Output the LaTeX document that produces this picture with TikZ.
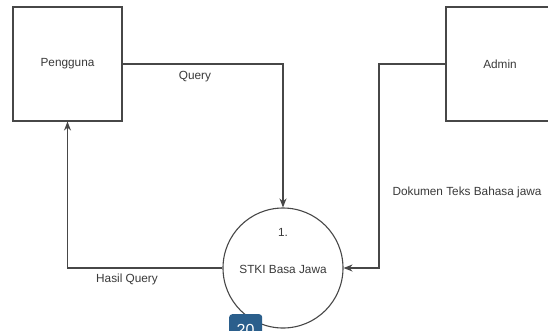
\documentclass[tikz,border=0pt]{standalone}
\usepackage{fontspec}
\setmainfont{Liberation Sans}
\usetikzlibrary{arrows.meta}
\definecolor{ln}{HTML}{474747}
\definecolor{tx}{HTML}{3A3A3A}
\definecolor{badge}{HTML}{2B5F8C}
\begin{document}
\begin{tikzpicture}[x=1pt,y=-1pt,
  txt/.style={font=\fontsize{11.8}{14}\selectfont, text=tx, inner sep=0pt},
  ent/.style={draw=ln, line width=1.1pt, rectangle, minimum width=109pt, minimum height=114pt, inner sep=0pt, font=\fontsize{11.8}{14}\selectfont, text=tx},
  proc/.style={draw=ln, line width=1.1pt, circle, minimum size=120pt, inner sep=0pt},
  flow/.style={draw=ln, line width=1.1pt, -{Stealth[length=9pt,width=7pt]}}]
\useasboundingbox (0,0) rectangle (548,330);
\clip (0,0) rectangle (548,330);
\fill[white] (0,0) rectangle (548,330);
\node[ent] (peng) at (67.5,64) {Pengguna};
\node[ent, minimum width=112pt] (admin) at (502,64) {};
\node[txt] (admintxt) at (500,64) {Admin};
\node[proc] (stki) at (283,268) {};
\node[txt] (num) at (283,232) {1.};
\node[txt] (stkitxt) at (283,269) {STKI Basa Jawa};
\coordinate (bend) at (379,268);
\draw[flow] (peng.east) -| (stki.north);
\draw[flow] (stki.west) -| (peng.south);
\draw[flow] (admin.west) -| (bend) -- (stki.east);
\node[txt] (lq) at (195,77) {Query};
\node[txt] (lh) at (127,279) {Hasil Query};
\node[txt] (ld) at (467,192) {Dokumen Teks Bahasa jawa};
\node[fill=badge, rounded corners=3pt, minimum width=33pt, minimum height=24pt, inner sep=0pt, anchor=north west] (bdg) at (229,314) {};
\node[text=white, font=\fontsize{16}{18}\selectfont, inner sep=0pt] (bdgtxt) at (245.5,330) {20};
\end{tikzpicture}
\end{document}
